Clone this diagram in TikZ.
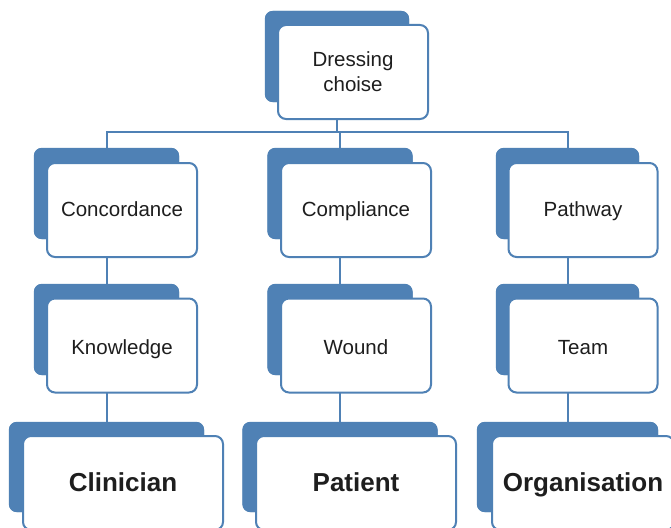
\documentclass[tikz,border=0pt]{standalone}
\usepackage{fontspec}
\setmainfont{Liberation Sans}
\definecolor{bblue}{RGB}{79,129,181}
\definecolor{txt}{RGB}{30,30,30}
\tikzset{
  backbox/.style={fill=bblue, draw=none, rounded corners=8pt, minimum width=145pt, minimum height=91pt, inner sep=0pt},
  frontbox/.style={fill=white, draw=bblue, line width=2pt, rounded corners=8pt, minimum width=150pt, minimum height=94pt, inner sep=0pt, align=center, text=txt, font=\fontsize{20.5}{25}\selectfont},
  rowtwo/.style={frontbox, text height=16pt, text depth=4pt},
  rowthree/.style={frontbox, text height=20pt, text depth=3pt},
  bigback/.style={backbox, minimum width=195pt, minimum height=90pt},
  bigfront/.style={frontbox, minimum width=200pt, minimum height=94pt, font=\fontsize{26}{30}\selectfont\bfseries, text height=21pt, text depth=3.6pt},
  conn/.style={draw=bblue, line width=2pt}
}
\begin{document}
\begin{tikzpicture}[x=1pt,y=-1pt]
\path[use as bounding box, clip] (0,0) rectangle (671,527);
\fill[white] (0,0) rectangle (671,527);
% back boxes
\node[backbox, minimum width=144pt] (topb) at (337,56.5) {};
\node[backbox] (cb) at (106.5,193.5) {};
\node[backbox] (mb) at (340,193.5) {};
\node[backbox, minimum width=143pt] (pb) at (567.5,193.5) {};
\node[backbox] (kb) at (106.5,329.5) {};
\node[backbox] (wb) at (340,329.5) {};
\node[backbox, minimum width=143pt] (tb) at (567.5,329.5) {};
\node[bigback] (clb) at (106.5,467) {};
\node[bigback] (ptb) at (340,467) {};
\node[bigback, minimum width=181pt] (orb) at (567.5,467) {};
% connectors
\coordinate (bus) at (337,132);
\draw[conn] (topb.center) -- (bus);
\draw[conn] (cb.north) |- (bus) -| (pb.north);
\draw[conn] (mb.north) -- (mb.north |- bus);
\draw[conn] (cb.center) -- (kb.north);
\draw[conn] (mb.center) -- (wb.north);
\draw[conn] (pb.center) -- (tb.north);
\draw[conn] (kb.center) -- (clb.north);
\draw[conn] (wb.center) -- (ptb.north);
\draw[conn] (tb.center) -- (orb.north);
% redraw back boxes over connectors
\foreach \n in {topb,cb,mb,pb,kb,wb,tb,clb,ptb,orb} {
  \fill[bblue, rounded corners=8pt] (\n.north west) rectangle (\n.south east);
}
% front boxes
\node[frontbox] (top) at (353,72) {Dressing\\choise};
\node[rowtwo] (c) at (122,210) {Concordance};
\node[rowtwo] (m) at (356,210) {Compliance};
\node[rowtwo, minimum width=149pt] (p) at (583,210) {Pathway};
\node[rowthree] (k) at (122,345.5) {Knowledge};
\node[rowthree] (w) at (356,345.5) {Wound};
\node[rowthree, minimum width=149pt] (t) at (583,345.5) {Team};
\node[bigfront] (cl) at (123,483) {Clinician};
\node[bigfront] (pt) at (356,483) {Patient};
\node[bigfront, minimum width=182pt] (or) at (583,483) {Organisation};
\end{tikzpicture}
\end{document}
